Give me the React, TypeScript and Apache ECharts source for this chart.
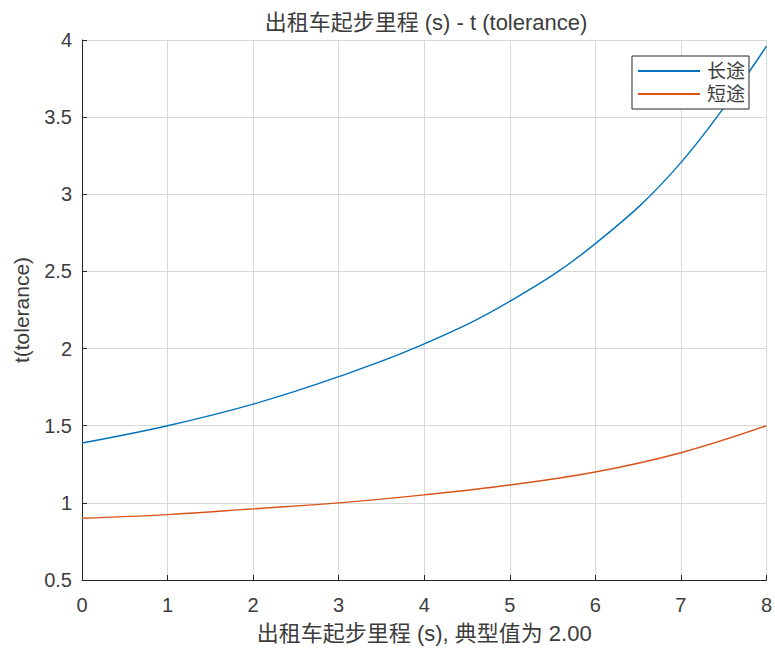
import React, { useEffect, useRef } from "react";
import * as echarts from "echarts";

const xValues = [0, 1, 2, 3, 4, 5, 6, 7, 8];
const longTrip = [1.388, 1.5, 1.64, 1.818, 2.03, 2.306, 2.68, 3.205, 3.96];
const shortTrip = [0.9, 0.924, 0.961, 1.0, 1.052, 1.116, 1.2, 1.325, 1.5];
const seriesNames = ["长途", "短途"];
const titleText = "出租车起步里程 (s) - t (tolerance)";
const xName = "出租车起步里程 (s), 典型值为 2.00";
const yName = "t(tolerance)";

const FONT = "'Liberation Sans', Arial, 'Noto Sans CJK SC', sans-serif";
const TEXT = "#3c3c3c";
const AXIS = "#262626";

export default function App() {
  const ref = useRef<HTMLDivElement>(null);
  useEffect(() => {
    if (!ref.current) return;
    const chart = echarts.init(ref.current, undefined, { renderer: "svg" });
    const pairs = (ys: number[]) => xValues.map((x, i) => [x, ys[i]]);
    chart.setOption({
      animation: false,
      backgroundColor: "#ffffff",
      grid: { left: 82, right: 7, top: 40, bottom: 73, containLabel: false },
      graphic: [
        {
          type: "text",
          x: 426,
          y: 22,
          style: {
            text: titleText,
            fill: TEXT,
            font: `22px ${FONT}`,
            textAlign: "center",
            textVerticalAlign: "middle",
          },
        },
      ],
      legend: {
        data: seriesNames,
        orient: "vertical",
        right: 26,
        top: 56,
        backgroundColor: "#ffffff",
        borderColor: AXIS,
        borderWidth: 1,
        borderRadius: 0,
        padding: [4, 4, 4, 6],
        itemGap: 1,
        itemWidth: 62,
        itemHeight: 2,
        icon: "rect",
        textStyle: { color: TEXT, fontSize: 19, fontFamily: FONT, lineHeight: 22, padding: [0, 0, 0, 2] },
      },
      xAxis: {
        type: "value",
        min: 0,
        max: 8,
        interval: 1,
        name: xName,
        nameLocation: "middle",
        nameGap: 42,
        nameTextStyle: { color: TEXT, fontSize: 22, fontFamily: FONT },
        axisLine: { show: true, lineStyle: { color: AXIS, width: 1 } },
        axisTick: { show: true, inside: true, length: 5, lineStyle: { color: AXIS } },
        axisLabel: { color: TEXT, fontSize: 20, fontFamily: FONT, margin: 15 },
        splitLine: { show: true, lineStyle: { color: "#d9d9d9", width: 1 } },
      },
      yAxis: {
        type: "value",
        min: 0.5,
        max: 4,
        interval: 0.5,
        name: yName,
        nameLocation: "middle",
        nameGap: 50,
        nameRotate: 90,
        nameTextStyle: { color: TEXT, fontSize: 21, fontFamily: FONT },
        axisLine: { show: true, lineStyle: { color: AXIS, width: 1 } },
        axisTick: { show: true, inside: true, length: 5, lineStyle: { color: AXIS } },
        axisLabel: { color: TEXT, fontSize: 20, fontFamily: FONT, margin: 10 },
        splitLine: { show: true, lineStyle: { color: "#d9d9d9", width: 1 } },
      },
      series: [
        {
          name: seriesNames[0],
          type: "line",
          data: pairs(longTrip),
          smooth: 0.4,
          symbol: "none",
          lineStyle: { color: "#0072BD", width: 1.4 },
          itemStyle: { color: "#0072BD" },
        },
        {
          name: seriesNames[1],
          type: "line",
          data: pairs(shortTrip),
          smooth: 0.4,
          symbol: "none",
          lineStyle: { color: "#D95319", width: 1.4 },
          itemStyle: { color: "#D95319" },
        },
      ],
    });
    return () => chart.dispose();
  }, []);
  return <div ref={ref} style={{ width: 775, height: 653, position: "absolute", left: 0, top: 0 }} />;
}
